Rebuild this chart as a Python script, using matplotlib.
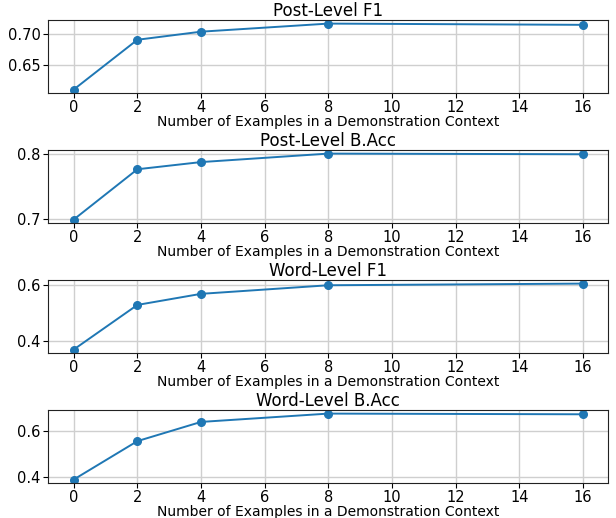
import matplotlib
matplotlib.use("Agg")
import matplotlib.pyplot as plt

shots = [0, 2, 4, 8, 16]
post_f1 = [0.610, 0.690, 0.703, 0.716, 0.714]
post_bacc = [0.699, 0.776, 0.787, 0.800, 0.799]
word_f1 = [0.368, 0.529, 0.569, 0.600, 0.606]
word_bacc = [0.391, 0.557, 0.640, 0.676, 0.673]
titles = ["Post-Level F1", "Post-Level B.Acc", "Word-Level F1", "Word-Level B.Acc"]
series = [post_f1, post_bacc, word_f1, word_bacc]
yticks = [[0.65, 0.70], [0.7, 0.8], [0.4, 0.6], [0.4, 0.6]]
yfmt = ["{:.2f}", "{:.1f}", "{:.1f}", "{:.1f}"]
xlabel = "Number of Examples in a Demonstration Context"

W, H = 616, 518
fig = plt.figure(figsize=(W / 100, H / 100), dpi=100)
tops = [20.3, 150.3, 280.3, 410.3]
left, right = 48.3, 608.3
height = 72.5

for i in range(4):
    top = tops[i]
    ax = fig.add_axes([left / W, (H - top - height) / H, (right - left) / W, height / H])
    ax.plot(shots, series[i], marker="o", color="#1f77b4", linewidth=1.4, markersize=5.5)
    ax.set_xticks(range(0, 17, 2))
    ax.set_yticks(yticks[i])
    ax.set_yticklabels([yfmt[i].format(v) for v in yticks[i]])
    ax.grid(True, color="#cfcfcf", linewidth=1.0)
    ax.set_axisbelow(True)
    ax.tick_params(labelsize=10.5)
    ax.tick_params(axis="x", pad=1.5)
    ax.tick_params(axis="y", pad=2)
    ax.set_xlabel(xlabel, fontsize=10, labelpad=0)
    ax.set_title(titles[i], fontsize=12, pad=2)
    for s in ax.spines.values():
        s.set_color("#222222")

fig.savefig("out.png", dpi=100)
